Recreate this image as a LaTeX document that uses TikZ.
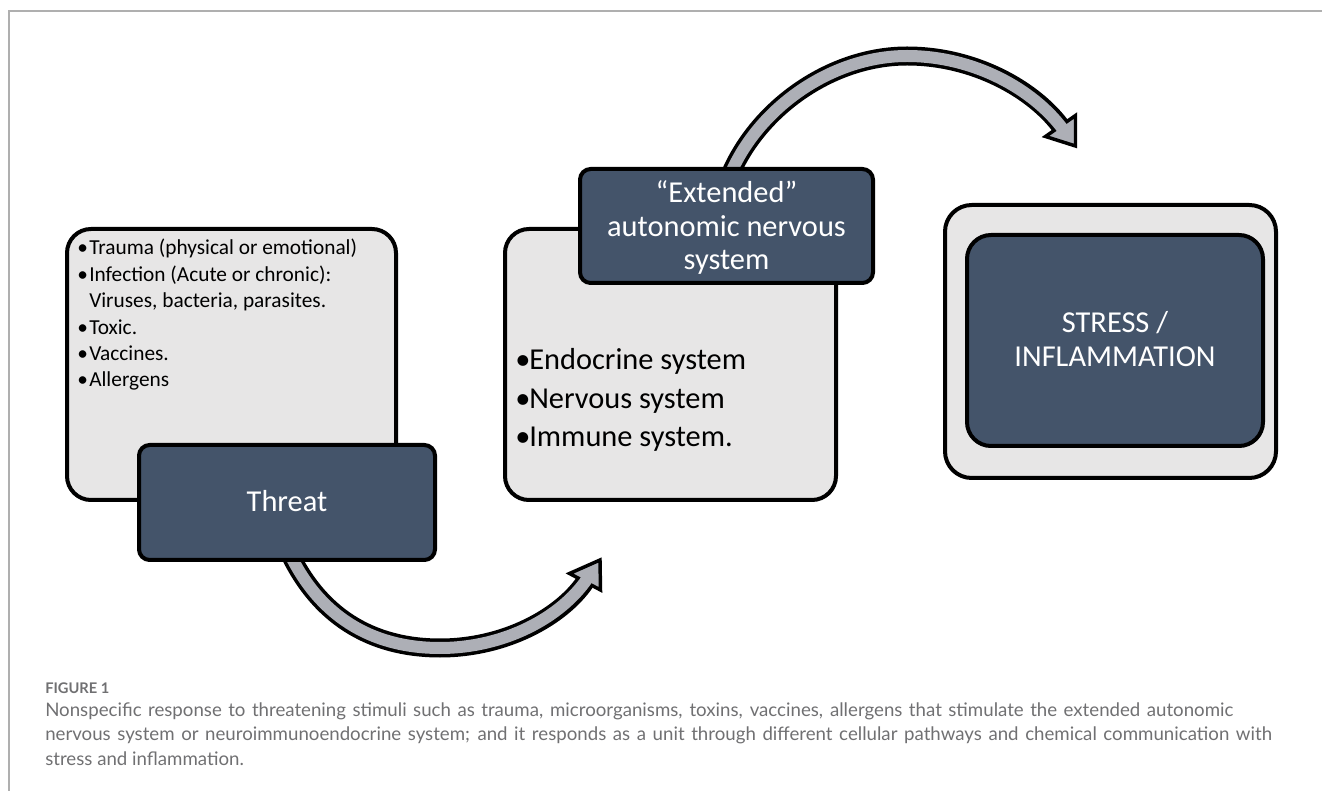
\documentclass[tikz,border=0pt]{standalone}
\usepackage{fontspec}
\setmainfont{Carlito}
\newfontfamily\capfont{Lato}

\definecolor{slate}{RGB}{68,84,106}
\definecolor{paper}{RGB}{231,230,230}
\definecolor{arrowgray}{RGB}{173,175,182}
\definecolor{capgray}{RGB}{112,112,114}
\definecolor{framegray}{RGB}{175,175,175}

\begin{document}
\begin{tikzpicture}[x=0.75pt, y=-0.75pt,
    lightbox/.style={draw=black, line width=3pt, fill=paper, rounded corners=18pt, inner sep=0pt},
    darkbox/.style={draw=black, line width=3pt, fill=slate, rounded corners=8pt, inner sep=0pt},
    bigtext/.style={font=\fontsize{22.8}{27}\selectfont, inner sep=0pt},
    smalltext/.style={font=\fontsize{16}{19}\selectfont, inner sep=0pt, anchor=base west},
    captext/.style={font=\capfont\fontsize{14}{16}\selectfont, text=capgray, inner sep=0pt, anchor=base west},
    shaftout/.style={draw=black, line width=14.25pt},
    shaftin/.style={draw=arrowgray, line width=9pt, shorten >=-2.5pt},
    arrowhead/.style={draw=black, fill=arrowgray, line width=2.6pt, line join=miter}
]
    \useasboundingbox (0,0) rectangle (1322,791);
    \draw[framegray, line width=1.1pt] (9,791) -- (9,11) -- (1322,11);

    % curved arrows (under the boxes)
    \coordinate (b0) at (288,550);
    \coordinate (b1) at (440,648);
    \coordinate (b2) at (585,582);
    \draw[shaftout] (b0) .. controls (318,615) and (370,648) .. (b1)
                         .. controls (505,648) and (561,617) .. (b2);
    \draw[arrowhead] (600,560) -- (569.5,573.5) -- (600.5,590) -- cycle;
    \draw[shaftin] (b0) .. controls (318,615) and (370,648) .. (b1)
                        .. controls (505,648) and (561,617) .. (b2);

    \coordinate (t0) at (728,180);
    \coordinate (t1) at (907,56);
    \coordinate (t2) at (1060.5,126);
    \draw[shaftout] (t0) .. controls (755,110) and (830,56) .. (t1)
                         .. controls (975,56) and (1033.5,90) .. (t2);
    \draw[arrowhead] (1075.5,146) -- (1045.5,136.5) -- (1075.5,115.5) -- cycle;
    \draw[shaftin] (t0) .. controls (755,110) and (830,56) .. (t1)
                        .. controls (975,56) and (1033.5,90) .. (t2);

    % threat
    \node[lightbox, minimum width=246.75pt, minimum height=203.25pt] at (231.5,364.5) (stimuli) {};
    \node[smalltext] at (77,255)   (s1) {\makebox[9pt][l]{•}Trauma (physical or emotional)};
    \node[smalltext] at (77,281.4) (s2) {\makebox[9pt][l]{•}Infection (Acute or chronic):};
    \node[smalltext] at (89,307.8) (s3) {Viruses, bacteria, parasites.};
    \node[smalltext] at (77,334.2) (s4) {\makebox[9pt][l]{•}Toxic.};
    \node[smalltext] at (77,360.6) (s5) {\makebox[9pt][l]{•}Vaccines.};
    \node[smalltext] at (77,387)   (s6) {\makebox[9pt][l]{•}Allergens};
    \node[darkbox, minimum width=222pt, minimum height=86.25pt] at (287,502.5) (threat) {};
    \node[bigtext, text=white, anchor=base] at (287,512) (threatlabel) {Threat};

    % extended autonomic nervous system
    \node[lightbox, minimum width=248.25pt, minimum height=203.25pt] at (670.5,364.5) (systems) {};
    \node[bigtext, anchor=base west] at (515,370) (y1) {\makebox[10.5pt][l]{•}Endocrine system};
    \node[bigtext, anchor=base west] at (515,408.5) (y2) {\makebox[10.5pt][l]{•}Nervous system};
    \node[bigtext, anchor=base west] at (515,447) (y3) {\makebox[10.5pt][l]{•}Immune system.};
    \node[darkbox, minimum width=219.75pt, minimum height=85.5pt] at (726.5,226) (extended) {};
    \node[bigtext, text=white, anchor=base] at (726.5,203) (e1) {“Extended”};
    \node[bigtext, text=white, anchor=base] at (726.5,237) (e2) {autonomic nervous};
    \node[bigtext, text=white, anchor=base] at (726.5,270) (e3) {system};

    % stress / inflammation
    \node[lightbox, rounded corners=20pt, minimum width=248.25pt, minimum height=204.75pt] at (1110.5,341.5) (outcome) {};
    \node[darkbox, rounded corners=18pt, minimum width=222pt, minimum height=158.25pt] at (1115,340.5) (stress) {};
    \node[bigtext, text=white, anchor=base] at (1115,333) (r1) {STRESS /};
    \node[bigtext, text=white, anchor=base] at (1115,367) (r2) {INFLAMMATION};

    % caption
    \node[captext, font=\capfont\bfseries\fontsize{11}{12}\selectfont] at (45,693) (figlabel) {FIGURE 1};
    \node[captext] at (45,716) (c1) {\makebox[891pt][s]{Nonspecific response to threatening stimuli such as trauma, microorganisms, toxins, vaccines, allergens that stimulate the extended autonomic}};
    \node[captext] at (45,740.5) (c2) {\makebox[920pt][s]{nervous system or neuroimmunoendocrine system; and it responds as a unit through different cellular pathways and chemical communication with}};
    \node[captext] at (45,765) (c3) {stress and inflammation.};
\end{tikzpicture}
\end{document}
